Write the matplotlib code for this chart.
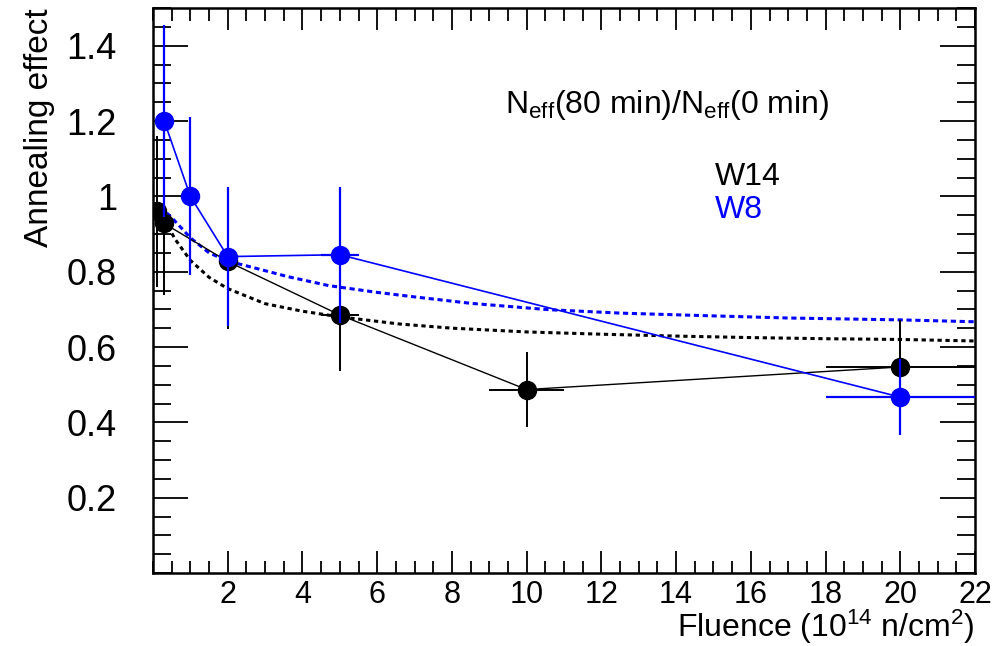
import matplotlib
matplotlib.use("Agg")
import matplotlib.pyplot as plt
from matplotlib.ticker import MultipleLocator, FixedLocator

plt.rcParams["font.family"] = ["Liberation Sans", "DejaVu Sans"]
plt.rcParams["mathtext.fontset"] = "custom"
plt.rcParams["mathtext.rm"] = "Liberation Sans"
plt.rcParams["mathtext.it"] = "Liberation Sans:italic"

# W14 measurements
w14_x = [0.1, 0.3, 2, 5, 10, 20]
w14_y = [0.96, 0.928, 0.827, 0.685, 0.487, 0.547]
w14_ey = [0.20, 0.19, 0.18, 0.15, 0.10, 0.125]
w14_ex = [0, 0, 0, 0.5, 1.0, 2.0]

# W8 measurements
w8_x = [0.3, 1, 2, 5, 20]
w8_y = [1.2, 1.0, 0.84, 0.845, 0.467]
w8_ey = [0.255, 0.21, 0.185, 0.18, 0.10]
w8_ex = [0, 0, 0, 0.5, 2.0]

# fitted curves
fit14_x = [0.4, 0.6, 1.0, 1.5, 2, 3, 4, 5, 6.6, 8, 10, 12, 14, 16, 18, 20, 22]
fit14_y = [0.92, 0.885, 0.83, 0.785, 0.755, 0.715, 0.695, 0.68, 0.661, 0.65,
           0.64, 0.634, 0.629, 0.625, 0.622, 0.62, 0.616]
fit8_x = [0.2, 0.6, 1, 1.5, 2, 2.6, 3.6, 4.7, 6, 7, 8.5, 10.6, 12.5, 14.5, 17, 20, 22]
fit8_y = [0.973, 0.933, 0.89, 0.85, 0.828, 0.813, 0.787, 0.763, 0.745, 0.733,
          0.716, 0.699, 0.69, 0.684, 0.677, 0.672, 0.667]

y_ticks = [0.2, 0.4, 0.6, 0.8, 1.0, 1.2, 1.4]
y_ticklabels = ["0.2", "0.4", "0.6", "0.8", "1", "1.2", "1.4"]

BLUE = "#0000ff"

fig = plt.figure(figsize=(9.97, 6.46), dpi=100)
ax = fig.add_axes([153 / 997, 1 - 573 / 646, (975 - 153) / 997, (573 - 8) / 646])

ax.plot(fit14_x, fit14_y, color="black", lw=2.2, dashes=(1.4, 1.2), zorder=2)
ax.plot(fit8_x, fit8_y, color=BLUE, lw=2.2, dashes=(1.7, 1.2), zorder=2)

ax.errorbar(w14_x, w14_y, yerr=w14_ey, xerr=w14_ex, color="black", lw=1.0,
            elinewidth=1.4, marker="o", ms=13, capsize=0, zorder=3)
ax.errorbar(w8_x, w8_y, yerr=w8_ey, xerr=w8_ex, color=BLUE, lw=1.2,
            elinewidth=1.6, marker="o", ms=13, capsize=0, zorder=4)

ax.set_xlim(0, 22)
ax.set_ylim(0, 1.5)
ax.xaxis.set_major_locator(FixedLocator(range(2, 23, 2)))
ax.xaxis.set_minor_locator(MultipleLocator(0.5))
ax.yaxis.set_major_locator(FixedLocator(y_ticks))
ax.yaxis.set_minor_locator(MultipleLocator(0.05))
ax.set_yticklabels(y_ticklabels)

ax.tick_params(which="both", direction="in", top=True, right=True, width=1.3,
               colors="black")
ax.tick_params(axis="x", which="major", length=16, pad=5, labelsize=22)
ax.tick_params(axis="x", which="minor", length=9)
ax.tick_params(axis="y", which="major", length=25, pad=26, labelsize=26)
ax.tick_params(axis="y", which="minor", length=13)
for sp in ax.spines.values():
    sp.set_linewidth(1.8)

fig.text(40 / 997, 1 - 8 / 646, "Annealing effect", rotation=90, ha="center",
         va="top", fontsize=24)
fig.text(975 / 997, 1 - 646 / 646, r"Fluence (10$^{14}$ n/cm$^{2}$)", ha="right",
         va="bottom", fontsize=23)

fig.text(505 / 997, 1 - 105 / 646,
         r"N$_{\mathrm{eff}}$(80 min)/N$_{\mathrm{eff}}$(0 min)",
         fontsize=23, va="center")
fig.text(715 / 997, 1 - 177 / 646, "W14", fontsize=23, va="center", color="black")
fig.text(715 / 997, 1 - 210 / 646, "W8", fontsize=23, va="center", color=BLUE)

fig.savefig("out.png", dpi=100)
